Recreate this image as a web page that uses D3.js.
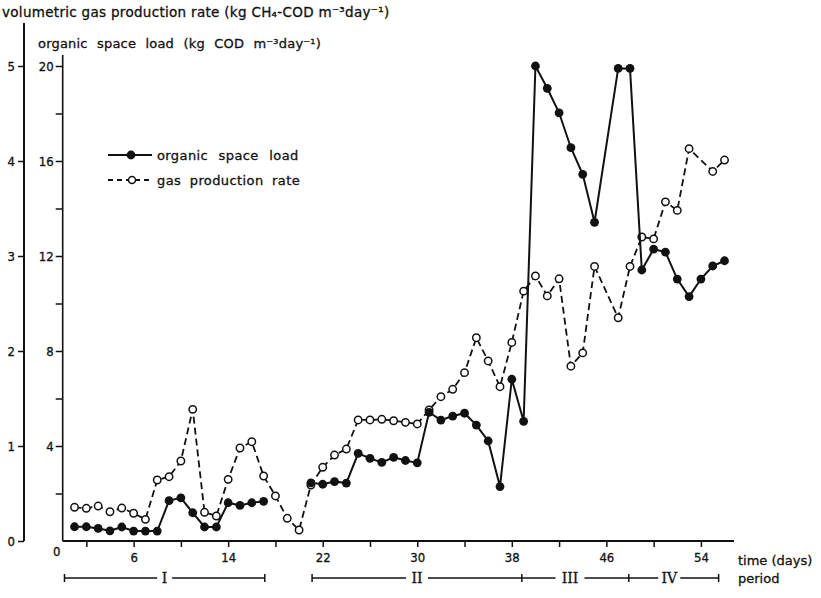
<!DOCTYPE html>
<html>
<head>
<meta charset="utf-8">
<script src="https://cdn.jsdelivr.net/npm/d3@7"></script>
<style>
  html, body { margin: 0; padding: 0; background: #fff; }
  svg { display: block; }
  text { font-family: "DejaVu Sans", sans-serif; fill: #111; stroke: #111; stroke-width: 0.3; }
</style>
</head>
<body>
<svg id="chart" width="821" height="598"></svg>
<script>
// Daily measurements (day number, organic space load, gas production rate)
const days = [
  1, 2, 3, 4, 5, 6, 7, 8, 9, 10, 11, 12, 13, 14, 15, 16, 17, 18, 19, 20,
  21, 22, 23, 24, 25, 26, 27, 28, 29, 30, 31, 32, 33, 34, 35, 36, 37, 38, 39, 40,
  41, 42, 43, 44, 45, 46, 47, 48, 49, 50, 51, 52, 53, 54, 55, 56
];
// kg COD m-3 day-1 (null = not measured)
const organicLoad = [
  0.60, 0.60, 0.53, 0.43, 0.59, 0.42, 0.42, 0.42, 1.70, 1.82, 1.19, 0.59, 0.59, 1.61, 1.50, 1.61, 1.67, null, null, null,
  2.45, 2.39, 2.50, 2.44, 3.69, 3.48, 3.31, 3.52, 3.39, 3.29, 5.42, 5.09, 5.26, 5.38, 4.88, 4.21, 2.29, 6.81, 5.04, 20.0,
  19.06, 18.03, 16.56, 15.44, 13.42, null, 19.9, 19.9, 11.41, 12.29, 12.16, 11.03, 10.29, 11.03, 11.58, 11.80
];
// kg CH4-COD m-3 day-1 (null = not measured)
const gasRate = [
  0.355, 0.344, 0.368, 0.308, 0.347, 0.292, 0.228, 0.642, 0.677, 0.842, 1.386, 0.302, 0.263, 0.649, 0.979, 1.045, 0.684, 0.474, 0.239, 0.116,
  0.589, 0.776, 0.905, 0.968, 1.274, 1.274, 1.281, 1.266, 1.249, 1.232, 1.379, 1.519, 1.597, 1.772, 2.14, 1.895, 1.624, 2.09, 2.63, 2.79,
  2.58, 2.76, 1.84, 1.98, 2.89, null, 2.35, 2.89, 3.20, 3.18, 3.57, 3.48, 4.13, null, 3.89, 4.01
];

// Axis ticks
const xTicks = [2, 6, 10, 14, 18, 22, 26, 30, 34, 38, 42, 46, 50, 54];
const xTickLabels = [6, 14, 22, 30, 38, 46, 54];
const loadTicks = [2, 4, 6, 8, 10, 12, 14, 16, 18, 20];
const loadTickLabels = [4, 8, 12, 16, 20];
const gasTicks = [0, 1, 2, 3, 4, 5];

// Operating periods (start day, end day)
const periodNames = ["I", "II", "III", "IV"];
const periodStart = [0.15, 21.1, 38.85, 47.9];
const periodEnd = [17.1, 38.85, 47.9, 55.5];

const svg = d3.select("#chart");
const ink = "#111";
const digitFont = "'DejaVu Sans Condensed', 'DejaVu Sans', sans-serif";

const x = d3.scaleLinear().domain([0, 56.8]).range([62.7, 734]);
const yLoad = d3.scaleLinear().domain([0, 20]).range([541, 66]);
const yGas = d3.scaleLinear().domain([0, 5]).range([541, 66]);

// Outer axis: gas production rate
const gasAxis = svg.append("g").attr("transform", "translate(24,0)")
  .call(d3.axisLeft(yGas).tickValues(gasTicks).tickSize(6).tickPadding(3).tickFormat(d3.format("d")));
gasAxis.select(".domain").remove();
gasAxis.append("line").attr("x1", 0).attr("x2", 0).attr("y1", 23).attr("y2", 541)
  .attr("stroke", ink).attr("stroke-width", 2);

// Inner axis: organic space load
const loadAxis = svg.append("g").attr("transform", "translate(62.7,0)")
  .call(d3.axisLeft(yLoad).tickValues(loadTicks).tickSize(7).tickPadding(2)
    .tickFormat(d => loadTickLabels.includes(d) ? d : ""));
loadAxis.select(".domain").remove();
loadAxis.append("line").attr("x1", 0).attr("x2", 0).attr("y1", 55).attr("y2", 541)
  .attr("stroke", ink).attr("stroke-width", 1.6);

// Time axis
const timeAxis = svg.append("g").attr("transform", "translate(0,541)")
  .call(d3.axisBottom(x).tickValues(xTicks).tickSize(6).tickPadding(6)
    .tickFormat(d => xTickLabels.includes(d) ? d : ""));
timeAxis.select(".domain").remove();
timeAxis.append("line").attr("x1", x(0)).attr("x2", x(56.8)).attr("y1", 0).attr("y2", 0)
  .attr("stroke", ink).attr("stroke-width", 2);

[gasAxis, loadAxis, timeAxis].forEach(g => {
  g.selectAll(".tick line").attr("stroke", ink).attr("stroke-width", 1.5);
  g.selectAll(".tick text").attr("font-size", 13).attr("fill", ink)
    .style("font-family", digitFont);
});

svg.append("text").attr("x", x(0) - 6).attr("y", 556).attr("font-size", 13)
  .attr("text-anchor", "middle").style("font-family", digitFont).text("0");

// Axis titles
svg.append("text").attr("x", 2).attr("y", 17).attr("font-size", 13.5).attr("letter-spacing", 0.3)
  .text("volumetric gas production rate (kg CH\u2084-COD m\u207B\u00B3day\u207B\u00B9)");
svg.append("text").attr("x", 38).attr("y", 48).attr("font-size", 13).attr("word-spacing", 5)
  .attr("letter-spacing", 0.2)
  .text("organic space load (kg COD m\u207B\u00B3day\u207B\u00B9)");
svg.append("text").attr("x", 738).attr("y", 565).attr("font-size", 13).text("time (days)");

// Series points, split into segments where measurements pause for several days
function segments(values) {
  const pts = days.map((d, i) => ({ d, v: values[i] })).filter(p => p.v != null);
  const segs = [];
  pts.forEach((p, i) => {
    if (i === 0 || p.d - pts[i - 1].d > 3) segs.push([]);
    segs[segs.length - 1].push(p);
  });
  return segs;
}

const gasSegs = segments(gasRate);
const loadSegs = segments(organicLoad);

const gasLine = d3.line().x(p => x(p.d)).y(p => yGas(p.v));
const loadLine = d3.line().x(p => x(p.d)).y(p => yLoad(p.v));

svg.append("g").selectAll("path").data(gasSegs).join("path")
  .attr("d", gasLine).attr("fill", "none").attr("stroke", ink)
  .attr("stroke-width", 1.8).attr("stroke-dasharray", "7,4");
svg.append("g").selectAll("circle").data(gasSegs.flat()).join("circle")
  .attr("cx", p => x(p.d)).attr("cy", p => yGas(p.v)).attr("r", 3.7)
  .attr("fill", "#fff").attr("stroke", ink).attr("stroke-width", 1.5);

svg.append("g").selectAll("path").data(loadSegs).join("path")
  .attr("d", loadLine).attr("fill", "none").attr("stroke", ink).attr("stroke-width", 2);
svg.append("g").selectAll("circle").data(loadSegs.flat()).join("circle")
  .attr("cx", p => x(p.d)).attr("cy", p => yLoad(p.v)).attr("r", 4.4).attr("fill", ink);

// Legend
const legend = svg.append("g");
legend.append("line").attr("x1", 108).attr("x2", 152).attr("y1", 155).attr("y2", 155)
  .attr("stroke", ink).attr("stroke-width", 2);
legend.append("circle").attr("cx", 131).attr("cy", 155).attr("r", 4.4).attr("fill", ink);
legend.append("text").attr("x", 157).attr("y", 160).attr("font-size", 13).attr("word-spacing", 6)
  .attr("letter-spacing", 0.4).text("organic space load");
legend.append("line").attr("x1", 108).attr("x2", 152).attr("y1", 180).attr("y2", 180)
  .attr("stroke", ink).attr("stroke-width", 1.8).attr("stroke-dasharray", "5,4");
legend.append("circle").attr("cx", 132).attr("cy", 180).attr("r", 3.5)
  .attr("fill", "#fff").attr("stroke", ink).attr("stroke-width", 1.5);
legend.append("text").attr("x", 157).attr("y", 185).attr("font-size", 13).attr("word-spacing", 4)
  .attr("letter-spacing", 0.4).text("gas production rate");

// Period bar
const py = 578;
const periods = periodNames.map((name, i) => ({ name, s: periodStart[i], e: periodEnd[i] }));
const pg = svg.append("g");
periods.forEach((p, i) => {
  const x0 = x(p.s), x1 = x(p.e);
  const mid = i === 0 ? (x0 + x1) / 2 : x0 + (x1 - x0) * (i === 1 ? 0.5 : 0.45);
  const half = 4 + p.name.length * 3.5;
  pg.append("line").attr("x1", x0).attr("x2", mid - half).attr("y1", py).attr("y2", py)
    .attr("stroke", ink).attr("stroke-width", 1.5);
  pg.append("line").attr("x1", mid + half).attr("x2", x1).attr("y1", py).attr("y2", py)
    .attr("stroke", ink).attr("stroke-width", 1.5);
  pg.append("text").attr("x", mid).attr("y", py + 5).attr("font-size", 14)
    .style("font-family", "'DejaVu Serif', serif").attr("text-anchor", "middle").text(p.name);
});
const bounds = [periodStart[0], periodEnd[0], periodStart[1], periodEnd[1], periodEnd[2], periodEnd[3]];
pg.selectAll("line.b").data(bounds).join("line").attr("class", "b")
  .attr("x1", d => x(d)).attr("x2", d => x(d)).attr("y1", py - 4).attr("y2", py + 4)
  .attr("stroke", ink).attr("stroke-width", 1.5);
svg.append("text").attr("x", 738).attr("y", 583).attr("font-size", 13).text("period");
</script>
</body>
</html>
